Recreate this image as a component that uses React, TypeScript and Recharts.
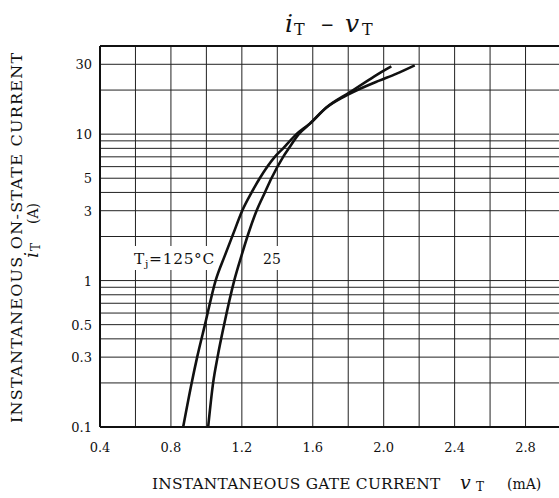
import React from "react";
import { LineChart, Line, XAxis, YAxis, CartesianGrid, ReferenceLine } from "recharts";

// on-state characteristic
const hot125 = [
  { v: 0.869, i: 0.1 },
  { v: 0.917, i: 0.2 },
  { v: 0.948, i: 0.3 },
  { v: 0.992, i: 0.5 },
  { v: 1.052, i: 1 },
  { v: 1.104, i: 1.48 },
  { v: 1.151, i: 2.08 },
  { v: 1.202, i: 3 },
  { v: 1.255, i: 4 },
  { v: 1.301, i: 5 },
  { v: 1.386, i: 7 },
  { v: 1.433, i: 8 },
  { v: 1.508, i: 10 },
  { v: 1.583, i: 11.8 },
  { v: 1.677, i: 15.2 },
  { v: 1.775, i: 18 },
  { v: 1.87, i: 20.5 },
  { v: 1.975, i: 23.2 },
  { v: 2.07, i: 25.8 },
  { v: 2.175, i: 29.5 },
];

const room25 = [
  { v: 1.01, i: 0.1 },
  { v: 1.038, i: 0.2 },
  { v: 1.063, i: 0.3 },
  { v: 1.1, i: 0.5 },
  { v: 1.157, i: 1 },
  { v: 1.198, i: 1.48 },
  { v: 1.236, i: 2.08 },
  { v: 1.283, i: 3 },
  { v: 1.33, i: 4 },
  { v: 1.367, i: 5 },
  { v: 1.433, i: 7 },
  { v: 1.465, i: 8 },
  { v: 1.521, i: 10 },
  { v: 1.585, i: 11.8 },
  { v: 1.677, i: 15.2 },
  { v: 1.808, i: 19.3 },
  { v: 1.91, i: 23.2 },
  { v: 1.97, i: 25.8 },
  { v: 2.043, i: 29 },
];

const xTicks = [0.4, 0.6, 0.8, 1.0, 1.2, 1.4, 1.6, 1.8, 2.0, 2.2, 2.4, 2.6, 2.8, 3.0];
const xLabels = [0.4, 0.8, 1.2, 1.6, 2.0, 2.4, 2.8];
const yTicks = [
  0.1, 0.2, 0.3, 0.4, 0.5, 0.6, 0.7, 0.8, 0.9,
  1, 2, 3, 4, 5, 6, 7, 8, 9,
  10, 20, 30, 40,
];
const yLabels = [0.1, 0.3, 0.5, 1, 3, 5, 10, 30];

const FONT = "'DejaVu Serif', 'Liberation Serif', serif";
const INK = "#111";

function XTick({ x, y, payload }: any) {
  if (!xLabels.includes(payload.value)) return <g />;
  return (
    <text x={x} y={y + 17} textAnchor="middle" fontFamily={FONT} fontSize={13} fill={INK}>
      {payload.value.toFixed(1)}
    </text>
  );
}

function YTick({ y, payload }: any) {
  if (!yLabels.includes(payload.value)) return <g />;
  return (
    <text x={92} y={y + 5} textAnchor="end" fontFamily={FONT} fontSize={13} fill={INK}>
      {payload.value}
    </text>
  );
}

export default function App() {
  return (
    <div
      style={{
        position: "absolute",
        left: 0,
        top: 0,
        width: 559,
        height: 498,
        overflow: "hidden",
        background: "#fff",
      }}
    >
      <LineChart
        width={570}
        height={498}
        margin={{ top: 46, right: 9, bottom: 41, left: 40 }}
      >
        <CartesianGrid stroke="#222" strokeWidth={1} />
        <XAxis
          type="number"
          dataKey="v"
          domain={[0.4, 3.0]}
          ticks={xTicks}
          interval={0}
          tick={<XTick />}
          tickLine={false}
          axisLine={{ stroke: INK, strokeWidth: 2 }}
          height={30}
          allowDataOverflow
        />
        <YAxis
          type="number"
          dataKey="i"
          scale="log"
          domain={[0.1, 40]}
          ticks={yTicks}
          interval={0}
          tick={<YTick />}
          tickLine={false}
          axisLine={{ stroke: INK, strokeWidth: 2 }}
          width={60}
          allowDataOverflow
        />
        <ReferenceLine y={40} stroke={INK} strokeWidth={2} />
        <Line
          data={hot125}
          dataKey="i"
          type="monotone"
          stroke={INK}
          strokeWidth={2.6}
          dot={false}
          isAnimationActive={false}
        />
        <Line
          data={room25}
          dataKey="i"
          type="monotone"
          stroke={INK}
          strokeWidth={2.6}
          dot={false}
          isAnimationActive={false}
        />
        {/* curve labels */}
        <rect x={131} y={246} width={88} height={24} fill="#fff" />
        <g transform="translate(134,264) scale(1.1,1)">
          <text x={0} y={0} fontFamily={FONT} fontSize={14} fill={INK} textLength={73} lengthAdjust="spacing">
            T<tspan fontSize={10} dy={3}>j</tspan>
            <tspan dy={-3}>=125°C</tspan>
          </text>
        </g>
        <rect x={260} y={246} width={26} height={24} fill="#fff" />
        <text x={263} y={264} fontFamily={FONT} fontSize={14} fill={INK}>
          25
        </text>
        {/* title */}
        <text y={32} fontFamily={FONT} fontSize={25} fill={INK}>
          <tspan x={285} fontStyle="italic">i</tspan>
          <tspan x={294} dy={3} fontSize={16}>T</tspan>
          <tspan x={321} dy={-3}>–</tspan>
          <tspan x={345} fontStyle="italic">v</tspan>
          <tspan x={362} dy={3} fontSize={16}>T</tspan>
        </text>
        {/* axis titles */}
        <g transform="translate(22,423) rotate(-90) scale(1.15,1)">
          <text x={0} y={0} fontFamily={FONT} fontSize={14} fill={INK} textLength={322} lengthAdjust="spacing">
            INSTANTANEOUS ON-STATE CURRENT
          </text>
        </g>
        <text transform="translate(38,258) rotate(-90)" fontFamily={FONT} fontSize={14} fill={INK}>
          <tspan x={0} fontStyle="italic" fontSize={19}>i</tspan>
          <tspan x={7} dy={2} fontSize={12}>T</tspan>
          <tspan x={34} dy={-2}>(A)</tspan>
        </text>
        <g transform="translate(152,489) scale(1.1,1)">
          <text x={0} y={0} fontFamily={FONT} fontSize={14} fill={INK} textLength={262} lengthAdjust="spacing">
            INSTANTANEOUS GATE CURRENT
          </text>
        </g>
        <text y={489} fontFamily={FONT} fontSize={14} fill={INK}>
          <tspan x={460} fontStyle="italic" fontSize={19}>v</tspan>
          <tspan x={476} dy={2} fontSize={12}>T</tspan>
          <tspan x={507} dy={-2}>(mA)</tspan>
        </text>
      </LineChart>
    </div>
  );
}
